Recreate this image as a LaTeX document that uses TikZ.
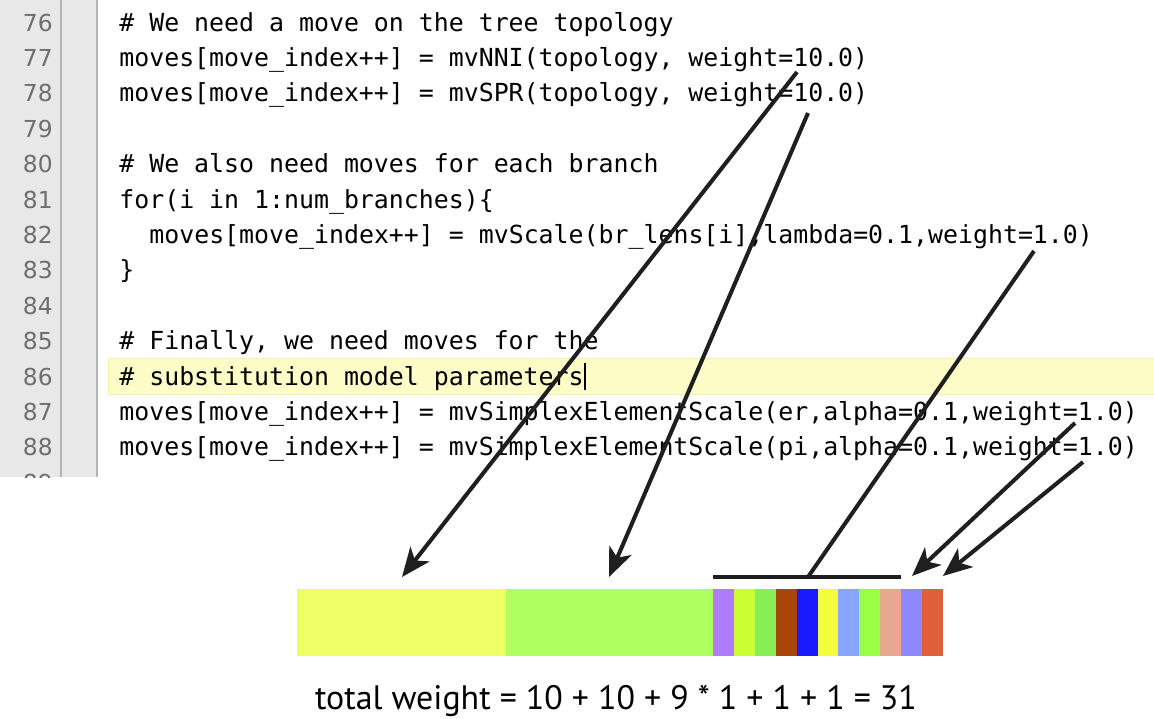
\documentclass[tikz,border=0pt]{standalone}
\usepackage{fontspec}
\setmonofont{DejaVu Sans Mono}
\newfontfamily\gutterfont{DejaVu Sans}
\newfontfamily\sumfont{PT Sans}
\usetikzlibrary{arrows.meta}

\newcommand{\us}{\char"5F}

\definecolor{gutbg}{HTML}{E8E8E8}
\definecolor{gutrule}{HTML}{B4B4B4}
\definecolor{gutnum}{HTML}{6E6E6E}
\definecolor{hilite}{HTML}{FDFDC8}
\definecolor{hiliteedge}{HTML}{F2F0B4}
\definecolor{segNNI}{HTML}{EFFF66}
\definecolor{segSPR}{HTML}{B0FF60}
\definecolor{brA}{HTML}{B07CFF}
\definecolor{brB}{HTML}{CCFF33}
\definecolor{brC}{HTML}{88EE55}
\definecolor{brD}{HTML}{A8460A}
\definecolor{brE}{HTML}{1A1AFF}
\definecolor{brF}{HTML}{F4FF3A}
\definecolor{brG}{HTML}{88A6FF}
\definecolor{brH}{HTML}{99FF44}
\definecolor{brI}{HTML}{E8A890}
\definecolor{segER}{HTML}{8E88FF}
\definecolor{segPI}{HTML}{E0603A}

\begin{document}
\begin{tikzpicture}[x=0.02cm,y=-0.02cm,
    code/.style={anchor=base west,inner sep=0pt,
      font=\ttfamily\frenchspacing\fontsize{14.16pt}{17pt}\selectfont},
    lnum/.style={anchor=base east,inner sep=0pt,text=gutnum,
      font=\gutterfont\fontsize{13.3pt}{16pt}\selectfont},
    pointer/.style={-{Stealth[length=5.8mm,width=4.8mm,inset=1.6mm]},
      line width=2.3pt,black!88},
    bracket/.style={line width=2.3pt,black!88}]
  \useasboundingbox (0,0) rectangle (1154,718);

  % editor gutter
  \fill[gutbg] (0,0) rectangle (97,477);
  \draw[gutrule,line width=1.2pt] (61,0) -- (61,477);
  \draw[gutrule,line width=1.2pt] (97,0) -- (97,477);
  \fill[hilite,draw=hiliteedge] (108,358) rectangle (1154,394);

  \foreach \n in {76,...,88}
    \node[lnum] (n\n) at (53,{31+(\n-76)*35.4}) {\n};
  \begin{scope}
    \clip (0,0) rectangle (97,477);
    \node[lnum] (n89) at (53,{31+13*35.4}) {89};
  \end{scope}

  % code lines
  \node[code] (c76) at (119,31.0)  {\# We need a move on the tree topology};
  \node[code] (c77) at (119,66.4)  {moves[move\us index++] = mvNNI(topology, weight=10.0)};
  \node[code] (c78) at (119,101.8) {moves[move\us index++] = mvSPR(topology, weight=10.0)};
  \node[code] (c80) at (119,172.6) {\# We also need moves for each branch};
  \node[code] (c81) at (119,208.0) {for(i in 1:num\us branches)\{};
  \node[code] (c82) at (149,243.4) {moves[move\us index++] = mvScale(br\us lens[i],lambda=0.1,weight=1.0)};
  \node[code] (c83) at (119,278.8) {\}};
  \node[code] (c85) at (119,349.6) {\# Finally, we need moves for the};
  \node[code] (c86) at (119,385.0) {\# substitution model parameters};
  \node[code] (c87) at (119,420.4) {moves[move\us index++] = mvSimplexElementScale(er,alpha=0.1,weight=1.0)};
  \node[code] (c88) at (119,455.8) {moves[move\us index++] = mvSimplexElementScale(pi,alpha=0.1,weight=1.0)};
  \draw[line width=0.8pt] (c86.base east) ++(1,5) -- ++(0,-27);

  % move weights as a bar
  \fill[segNNI] (297,589) rectangle (506,656);
  \fill[segSPR] (506,589) rectangle (713,656);
  \foreach \c [count=\i from 0] in {brA,brB,brC,brD,brE,brF,brG,brH,brI,segER,segPI}
    \fill[\c] ({713+\i*20.9},589) rectangle ({713+(\i+1)*20.9},656);

  \coordinate (brL) at (713,577);
  \coordinate (brR) at (901,577);
  \coordinate (brM) at (808,577);
  \draw[bracket] (brL) -- (brR);

  % pointers from the code
  \coordinate (fromNNI) at (797,72);
  \coordinate (fromSPR) at (808,113);
  \coordinate (fromScale) at (1034,251);
  \coordinate (fromER) at (1075,423);
  \coordinate (fromPI) at (1083,462);
  \coordinate (toNNI) at (402,577);
  \coordinate (toSPR) at (609,577);
  \coordinate (toER) at (912,576);
  \coordinate (toPI) at (943,576);

  \draw[pointer] (fromNNI) -- (toNNI);
  \draw[pointer] (fromSPR) -- (toSPR);
  \draw[bracket] (fromScale) -- (brM);
  \draw[pointer] (fromER) -- (toER);
  \draw[pointer] (fromPI) -- (toPI);

  \node[anchor=base,inner sep=0pt,font=\sumfont\fontsize{19.3pt}{22pt}\selectfont]
    (total) at (616,709) {total weight = 10 + 10 + 9 * 1 + 1 + 1 = 31};
\end{tikzpicture}
\end{document}
